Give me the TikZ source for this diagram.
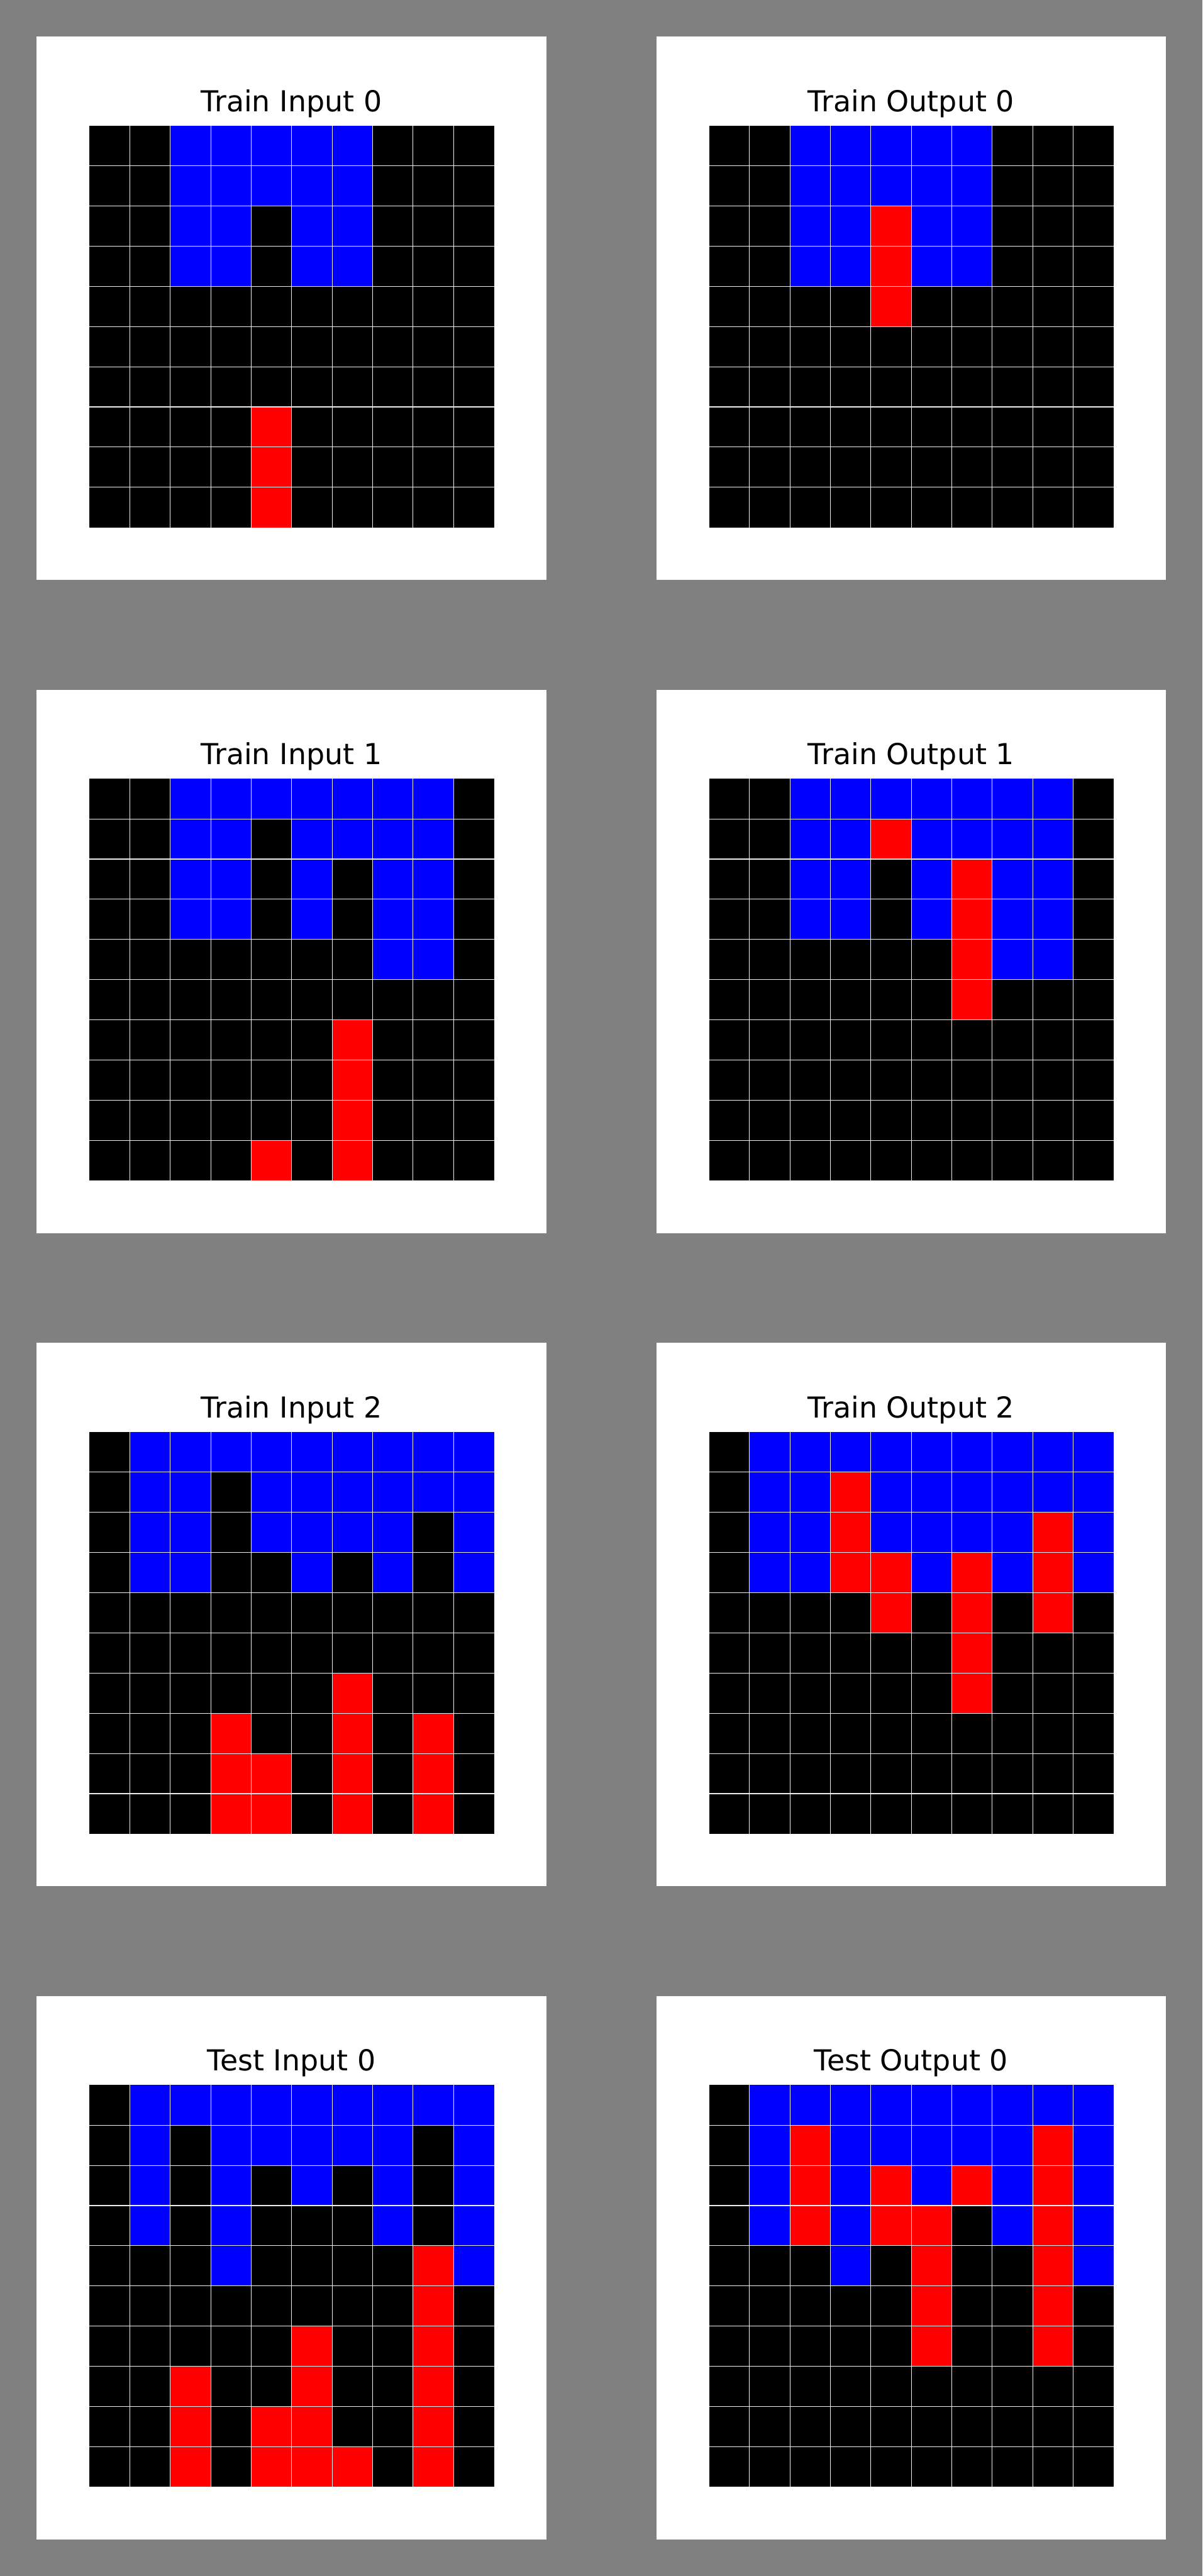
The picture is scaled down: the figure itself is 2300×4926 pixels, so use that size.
\documentclass[tikz,border=0pt]{standalone}
\usepackage{fontspec}
\setmainfont{DejaVu Sans}
\definecolor{bgray}{HTML}{808080}
\definecolor{c0}{HTML}{000000}
\definecolor{c1}{HTML}{0000FF}
\definecolor{c2}{HTML}{FF0000}
\tikzset{
  paneltitle/.style={anchor=base, font=\fontsize{27.6}{33}\selectfont, text=black, inner sep=0pt},
  panelbox/.style={fill=white, draw=none},
  gridline/.style={draw=white!93!black, line width=0.65pt}
}
\newcommand\arcpanel[5]{%
  \fill[panelbox] (#1,#2) rectangle ++(975,1039);
  \node[paneltitle] (#4) at ({#1+487.5},{#2+143}) {#3};
  \foreach \rowdata [count=\ri from 0] in {#5} {
    \foreach \v [count=\ci from 0] in \rowdata {
      \fill[c\v] ({#1+101+\ci*77.37},{#2+170+\ri*76.87}) rectangle ++(77.37,76.87);
    }
  }
  \foreach \k in {1,...,9} {
    \draw[gridline] ({#1+101+\k*77.37},{#2+170}) -- ++(0,768.7);
    \draw[gridline] ({#1+101},{#2+170+\k*76.87}) -- ++(773.7,0);
  }
}
\begin{document}
\begin{tikzpicture}[x=0.5pt,y=-0.5pt]
\fill[bgray] (0,0) rectangle (2300,4926);
\useasboundingbox (0,0) rectangle (2300,4926);
% Row 0
\arcpanel{70}{70}{Train Input 0}{ti0}{%
{0,0,1,1,1,1,1,0,0,0},
{0,0,1,1,1,1,1,0,0,0},
{0,0,1,1,0,1,1,0,0,0},
{0,0,1,1,0,1,1,0,0,0},
{0,0,0,0,0,0,0,0,0,0},
{0,0,0,0,0,0,0,0,0,0},
{0,0,0,0,0,0,0,0,0,0},
{0,0,0,0,2,0,0,0,0,0},
{0,0,0,0,2,0,0,0,0,0},
{0,0,0,0,2,0,0,0,0,0}}
\arcpanel{1255}{70}{Train Output 0}{to0}{%
{0,0,1,1,1,1,1,0,0,0},
{0,0,1,1,1,1,1,0,0,0},
{0,0,1,1,2,1,1,0,0,0},
{0,0,1,1,2,1,1,0,0,0},
{0,0,0,0,2,0,0,0,0,0},
{0,0,0,0,0,0,0,0,0,0},
{0,0,0,0,0,0,0,0,0,0},
{0,0,0,0,0,0,0,0,0,0},
{0,0,0,0,0,0,0,0,0,0},
{0,0,0,0,0,0,0,0,0,0}}
% Row 1
\arcpanel{70}{1319}{Train Input 1}{ti1}{%
{0,0,1,1,1,1,1,1,1,0},
{0,0,1,1,0,1,1,1,1,0},
{0,0,1,1,0,1,0,1,1,0},
{0,0,1,1,0,1,0,1,1,0},
{0,0,0,0,0,0,0,1,1,0},
{0,0,0,0,0,0,0,0,0,0},
{0,0,0,0,0,0,2,0,0,0},
{0,0,0,0,0,0,2,0,0,0},
{0,0,0,0,0,0,2,0,0,0},
{0,0,0,0,2,0,2,0,0,0}}
\arcpanel{1255}{1319}{Train Output 1}{to1}{%
{0,0,1,1,1,1,1,1,1,0},
{0,0,1,1,2,1,1,1,1,0},
{0,0,1,1,0,1,2,1,1,0},
{0,0,1,1,0,1,2,1,1,0},
{0,0,0,0,0,0,2,1,1,0},
{0,0,0,0,0,0,2,0,0,0},
{0,0,0,0,0,0,0,0,0,0},
{0,0,0,0,0,0,0,0,0,0},
{0,0,0,0,0,0,0,0,0,0},
{0,0,0,0,0,0,0,0,0,0}}
% Row 2
\arcpanel{70}{2568}{Train Input 2}{ti2}{%
{0,1,1,1,1,1,1,1,1,1},
{0,1,1,0,1,1,1,1,1,1},
{0,1,1,0,1,1,1,1,0,1},
{0,1,1,0,0,1,0,1,0,1},
{0,0,0,0,0,0,0,0,0,0},
{0,0,0,0,0,0,0,0,0,0},
{0,0,0,0,0,0,2,0,0,0},
{0,0,0,2,0,0,2,0,2,0},
{0,0,0,2,2,0,2,0,2,0},
{0,0,0,2,2,0,2,0,2,0}}
\arcpanel{1255}{2568}{Train Output 2}{to2}{%
{0,1,1,1,1,1,1,1,1,1},
{0,1,1,2,1,1,1,1,1,1},
{0,1,1,2,1,1,1,1,2,1},
{0,1,1,2,2,1,2,1,2,1},
{0,0,0,0,2,0,2,0,2,0},
{0,0,0,0,0,0,2,0,0,0},
{0,0,0,0,0,0,2,0,0,0},
{0,0,0,0,0,0,0,0,0,0},
{0,0,0,0,0,0,0,0,0,0},
{0,0,0,0,0,0,0,0,0,0}}
% Row 3
\arcpanel{70}{3817}{Test Input 0}{tei0}{%
{0,1,1,1,1,1,1,1,1,1},
{0,1,0,1,1,1,1,1,0,1},
{0,1,0,1,0,1,0,1,0,1},
{0,1,0,1,0,0,0,1,0,1},
{0,0,0,1,0,0,0,0,2,1},
{0,0,0,0,0,0,0,0,2,0},
{0,0,0,0,0,2,0,0,2,0},
{0,0,2,0,0,2,0,0,2,0},
{0,0,2,0,2,2,0,0,2,0},
{0,0,2,0,2,2,2,0,2,0}}
\arcpanel{1255}{3817}{Test Output 0}{teo0}{%
{0,1,1,1,1,1,1,1,1,1},
{0,1,2,1,1,1,1,1,2,1},
{0,1,2,1,2,1,2,1,2,1},
{0,1,2,1,2,2,0,1,2,1},
{0,0,0,1,0,2,0,0,2,1},
{0,0,0,0,0,2,0,0,2,0},
{0,0,0,0,0,2,0,0,2,0},
{0,0,0,0,0,0,0,0,0,0},
{0,0,0,0,0,0,0,0,0,0},
{0,0,0,0,0,0,0,0,0,0}}
\end{tikzpicture}
\end{document}
